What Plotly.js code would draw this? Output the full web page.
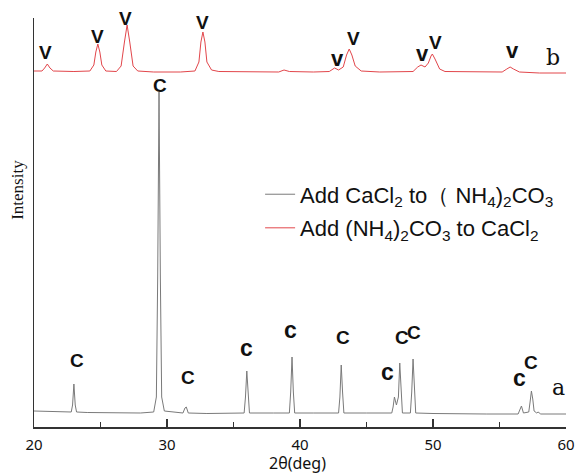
<!DOCTYPE html>
<html>
<head>
<meta charset="utf-8">
<script src="https://cdn.plot.ly/plotly-3.0.1.min.js"></script>
<style>html,body{margin:0;padding:0;background:#fff;}#chart{width:578px;height:473px;}</style>
</head>
<body>
<div id="chart"></div>
<script>
// Curve a (gray): Add CaCl2 to (NH4)2CO3
const xA = [20,21,22,22.8,22.9,23.0,23.1,23.2,24,26,28,29.0,29.2,29.3,29.4,29.5,29.6,29.8,31.2,31.35,31.45,31.6,33,35.8,35.9,36.0,36.1,36.2,38,39.2,39.3,39.4,39.5,39.6,41,42.9,43.0,43.1,43.2,43.3,45,46.9,47.0,47.1,47.25,47.4,47.5,47.6,47.7,48.3,48.4,48.5,48.6,48.7,50,52,54,56.4,56.55,56.65,56.8,57.2,57.3,57.4,57.5,57.6,57.8,57.9,58.1,60];
const yA = [16,15.5,15,15,22,43,22,15,14.5,14,14,15,30,150,335,150,30,16,14,19,20,14,13.5,14,30,56,30,14,14,14,35,70,35,14,14,14,30,62,35,14,14,14,20,30,22,30,64,30,14,14,35,68,40,14,13.5,13,13,13,19,21,14,15,25,36,28,16,14,15,13,13];
// Curve b (red): Add (NH4)2CO3 to CaCl2
const xB = [20,20.6,20.8,21.0,21.2,21.45,23,24.2,24.5,24.65,24.8,24.95,25.1,25.4,26.2,26.55,26.8,27.0,27.2,27.45,27.8,29,31,32.1,32.4,32.55,32.7,32.85,33.0,33.35,33.9,36,38.4,38.8,39.2,41,42.2,42.6,42.9,43.25,43.5,43.7,43.9,44.15,44.6,46,48.5,48.85,49.1,49.4,49.65,49.85,49.95,50.15,50.5,50.9,53,55.2,55.55,55.8,56.05,56.5,58,60];
const yB = [356,356,359,363,359,356,355.5,356,362,375,383,375,362,356,355.5,361,385,402,385,361,356,355,355,356,365,385,395,385,365,357,355.5,355,355,357,355.5,355,355.5,359,357,360,372,378,372,361,356,355,355.5,360,362,360,364,371,373,368,358,355.5,355,355,358,360,358,355,354,354];
// Peak labels
const vLabelX = [20.9,24.8,26.9,32.7,42.8,44.0,49.2,50.2,56.0];
const vLabelY = [375,391,409,405,369,389,374,385,377];
const vLabelT = ['V','V','V','V','v','V','v','V','v'];
const cLabelX = [29.5,23.2,31.6,36.0,39.3,43.2,46.6,47.65,48.6,56.5,57.4];
const cLabelY = [342,67,50,79,97,90,55,90,95,49,65];
const cLabelT = ['C','C','C','c','c','C','c','C','C','c','C'];
const nameA = 'Add CaCl<sub>2</sub> to（ NH<sub>4</sub>)<sub>2</sub>CO<sub>3</sub>';
const nameB = 'Add (NH<sub>4</sub>)<sub>2</sub>CO<sub>3</sub> to CaCl<sub>2</sub>';

const traces = [
  {x:xA, y:yA, type:'scatter', mode:'lines', name:nameA, legendgroup:'a', line:{color:'#7a7a7a', width:1}},
  {x:xB, y:yB, type:'scatter', mode:'lines', name:nameB, legendgroup:'b', line:{color:'#e2464b', width:1}}
];
const ann = [];
vLabelX.forEach((x,i)=>ann.push({x:x, y:vLabelY[i], text:'<b>'+vLabelT[i]+'</b>', showarrow:false, font:{family:'Liberation Sans, Arial', size: vLabelT[i]==='v'?22:19, color:'#111'}}));
cLabelX.forEach((x,i)=>ann.push({x:x, y:cLabelY[i], text:'<b>'+cLabelT[i]+'</b>', showarrow:false, font:{family:'Liberation Sans, Arial', size: cLabelT[i]==='c'?23:19, color:'#111'}}));
ann.push({x:59.4, y:40, text:'a', showarrow:false, font:{family:'DejaVu Serif, Liberation Serif', size:22, color:'#111'}});
ann.push({x:59.0, y:370, text:'b', showarrow:false, font:{family:'DejaVu Serif, Liberation Serif', size:22, color:'#111'}});
ann.push({xref:'paper', yref:'paper', x:-0.03, y:0.58, xanchor:'center', yanchor:'middle', textangle:-90, text:'Intensity', showarrow:false, font:{family:'Liberation Serif, DejaVu Serif', size:17, color:'#111'}});
ann.push({xref:'paper', yref:'paper', x:0.495, y:-0.088, xanchor:'center', yanchor:'middle', text:'2θ(deg)', showarrow:false, font:{family:'Noto Sans, Liberation Sans', size:16, color:'#111'}});

const layout = {
  width:578, height:473,
  margin:{l:34, r:12, t:18, b:46},
  paper_bgcolor:'#fff', plot_bgcolor:'#fff',
  showlegend:true,
  legend:{x:0.425, y:0.62, xanchor:'left', yanchor:'top', bgcolor:'rgba(0,0,0,0)', font:{family:'Liberation Sans, Arial', size:22, color:'#111'}, tracegroupgap:2},
  xaxis:{range:[20,60], showgrid:false, zeroline:false, showline:true, linecolor:'#333', linewidth:1.5,
    ticks:'inside', ticklen:8, tickwidth:1.5, tickcolor:'#333', dtick:10, tick0:20, ticklabelstandoff:3,
    minor:{dtick:5, ticks:'inside', ticklen:5, tickwidth:1.5, tickcolor:'#333'},
    tickfont:{family:'Noto Sans, Liberation Sans', size:15, color:'#111'}},
  yaxis:{range:[0,409], showgrid:false, zeroline:false, showline:true, linecolor:'#333', linewidth:1.5,
    showticklabels:false, ticks:''},
  annotations:ann
};
Plotly.newPlot('chart', traces, layout, {displayModeBar:false, staticPlot:true});
</script>
</body>
</html>
